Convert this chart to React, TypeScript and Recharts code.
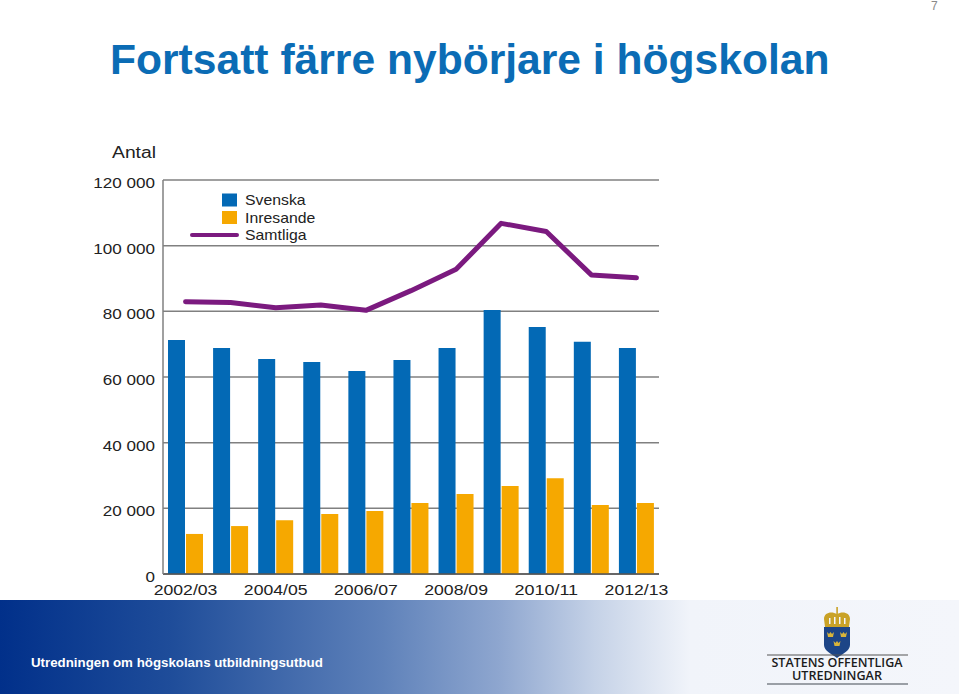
import { ComposedChart, Bar, Line, XAxis, YAxis, CartesianGrid, Legend } from "recharts";

const years = ["2002/03", "2003/04", "2004/05", "2005/06", "2006/07", "2007/08", "2008/09", "2009/10", "2010/11", "2011/12", "2012/13"];
const svenska = [71300, 68800, 65500, 64600, 61800, 65200, 68800, 80400, 75200, 70700, 68800];
const inresande = [12200, 14600, 16400, 18300, 19200, 21600, 24400, 26800, 29200, 21000, 21600];
const samtliga = [82900, 82700, 81100, 81900, 80300, 86300, 92800, 106800, 104300, 91100, 90200];
const yTicks = [0, 20000, 40000, 60000, 80000, 100000, 120000];

const chartData = years.map((year, i) => ({
  year,
  Svenska: svenska[i],
  Inresande: inresande[i],
  Samtliga: samtliga[i],
}));

const BLUE = "#0369b5";
const ORANGE = "#f6a800";
const PURPLE = "#7b1a7f";
const GRID = "#808080";
const TEXT = "#222222";
const FONT = "'Liberation Sans', Arial, sans-serif";

// the labels in the picture are stretched sideways, about 1.22x
const stretchedWidth = (s: string, size: number) => {
  const digits = s.replace(/[ /]/g, "").length;
  const thin = s.length - digits;
  return (digits * 0.556 + thin * 0.278) * size * 1.22;
};

function YTick({ x, y, payload }: any) {
  const label = String(payload.value).replace(/\B(?=(\d{3})+$)/g, " ");
  return (
    <text
      x={x}
      y={y + 8}
      textAnchor="end"
      fontSize={14}
      fontFamily={FONT}
      fill={TEXT}
      textLength={stretchedWidth(label, 14)}
      lengthAdjust="spacingAndGlyphs"
    >
      {label}
    </text>
  );
}

function XTick({ x, y, payload }: any) {
  return (
    <text
      x={x}
      y={y + 13}
      textAnchor="middle"
      fontSize={14}
      fontFamily={FONT}
      fill={TEXT}
      textLength={stretchedWidth(payload.value, 14) + 2}
      lengthAdjust="spacingAndGlyphs"
    >
      {payload.value}
    </text>
  );
}

function LegendBox({ payload }: any) {
  return (
    <svg width={150} height={60} style={{ display: "block" }}>
      {(payload || []).map((item: any, i: number) => {
        const cy = 10 + i * 17.5;
        return (
          <g key={item.value}>
            {item.type === "line" ? (
              <line x1={2} x2={47} y1={cy} y2={cy} stroke={item.color} strokeWidth={4} strokeLinecap="round" />
            ) : (
              <rect x={32} y={cy - 6.5} width={15} height={13} fill={item.color} />
            )}
            <text
              transform={`translate(55 ${cy + 5}) scale(1.13 1)`}
              fontSize={14}
              fontFamily={FONT}
              fill={TEXT}
            >
              {item.value}
            </text>
          </g>
        );
      })}
    </svg>
  );
}

function Logo() {
  return (
    <svg width={219} height={99} style={{ position: "absolute", left: 740, top: 595 }}>
      {/* crown */}
      <path d="M85 32 L84 24 C84 17 92 16 97 19 C102 16 110 17 110 24 L109 32 Z" fill="#c9a227" />
      <rect x={96.3} y={12} width={1.6} height={7} fill="#c9a227" />
      <g fill="#f4f6fb">
        <rect x={89} y={23} width={1.5} height={6} />
        <rect x={94} y={22} width={1.5} height={7} />
        <rect x={99} y={22} width={1.5} height={7} />
        <rect x={104} y={23} width={1.5} height={6} />
      </g>
      {/* shield */}
      <path d="M84 32 H110 V50 C110 56 102 59 97 63 C92 59 84 56 84 50 Z" fill="#1d4587" />
      <g fill="#d9b43a">
        <path d="M87 37 L89 39 L90.5 37 L92 39 L94 37 L93 42 H88 Z" />
        <path d="M100 37 L102 39 L103.5 37 L105 39 L107 37 L106 42 H101 Z" />
        <path d="M93.5 46 L95.5 48 L97 46 L98.5 48 L100.5 46 L99.5 51 H94.5 Z" />
      </g>
      <rect x={27} y={59.5} width={141} height={1} fill="#555" />
      <rect x={27} y={88} width={141} height={2} fill="#9a9fa6" />
      <text x={97} y={72} textAnchor="middle" fontSize={12} fontWeight={600} fontFamily="'Open Sans', sans-serif" fill="#1b1b1b" textLength={131} lengthAdjust="spacingAndGlyphs">
        STATENS OFFENTLIGA
      </text>
      <text x={97} y={84.5} textAnchor="middle" fontSize={12} fontWeight={600} fontFamily="'Open Sans', sans-serif" fill="#1b1b1b" textLength={90} lengthAdjust="spacingAndGlyphs">
        UTREDNINGAR
      </text>
    </svg>
  );
}

export default function App() {
  return (
    <div style={{ position: "fixed", left: 0, top: 0, width: 959, height: 694, background: "#fff", overflow: "hidden" }}>
      <div style={{ position: "absolute", left: 931, top: 0, fontSize: 12, lineHeight: "12px", color: "#8a8a8a", fontFamily: FONT }}>7</div>
      <div
        style={{
          position: "absolute",
          left: 110,
          top: 35,
          fontSize: 42.6,
          lineHeight: "48px",
          fontWeight: 700,
          color: "#0b6cb5",
          fontFamily: FONT,
          whiteSpace: "nowrap",
        }}
      >
        Fortsatt färre nybörjare i högskolan
      </div>

      <svg width={100} height={30} style={{ position: "absolute", left: 100, top: 140 }}>
        <text x={12} y={18} fontSize={16} fontFamily={FONT} fill={TEXT} textLength={44} lengthAdjust="spacingAndGlyphs">
          Antal
        </text>
      </svg>

      <ComposedChart
        width={959}
        height={694}
        data={chartData}
        barSize={17}
        barGap={1}
        barCategoryGap={5}
        margin={{ top: 180, right: 300, bottom: 90, left: 0 }}
        style={{ position: "absolute", left: 0, top: 0 }}
      >
        <CartesianGrid vertical={false} stroke={GRID} strokeWidth={1.5} />
        <XAxis
          dataKey="year"
          interval={1}
          height={30}
          tick={<XTick />}
          tickLine={false}
          axisLine={{ stroke: "#555", strokeWidth: 1.5 }}
        />
        <YAxis
          width={163}
          domain={[0, 120000]}
          ticks={yTicks}
          tick={<YTick />}
          tickLine={false}
          tickMargin={2}
          axisLine={{ stroke: GRID, strokeWidth: 1.5 }}
        />
        <YAxis
          yAxisId="right"
          orientation="right"
          width={0}
          domain={[0, 120000]}
          ticks={yTicks}
          tick={false}
          tickLine={false}
          axisLine={{ stroke: GRID, strokeWidth: 1.5 }}
        />
        <Legend
          content={<LegendBox />}
          layout="horizontal"
          align="center"
          verticalAlign="middle"
          itemSorter={null}
          wrapperStyle={{ left: 190, top: 190, width: 150, bottom: "auto" }}
        />
        <Bar dataKey="Svenska" fill={BLUE} isAnimationActive={false} />
        <Bar dataKey="Inresande" fill={ORANGE} isAnimationActive={false} />
        <Line
          dataKey="Samtliga"
          type="linear"
          stroke={PURPLE}
          strokeWidth={5}
          strokeLinecap="round"
          strokeLinejoin="round"
          dot={false}
          activeDot={false}
          isAnimationActive={false}
        />
      </ComposedChart>

      <div
        style={{
          position: "absolute",
          left: 0,
          top: 600,
          width: 959,
          height: 94,
          background: "linear-gradient(90deg, #01308a 0%, #1f4d9a 18%, #5f82ba 40%, #8ea6cf 52%, #c5d2e7 62%, #f1f4fa 72%, #f4f6fb 100%)",
        }}
      />
      <div
        style={{
          position: "absolute",
          left: 31,
          top: 655,
          fontSize: 13.3,
          lineHeight: "16px",
          fontWeight: 700,
          color: "#fff",
          fontFamily: FONT,
          whiteSpace: "nowrap",
        }}
      >
        Utredningen om högskolans utbildningsutbud
      </div>
      <Logo />
    </div>
  );
}
